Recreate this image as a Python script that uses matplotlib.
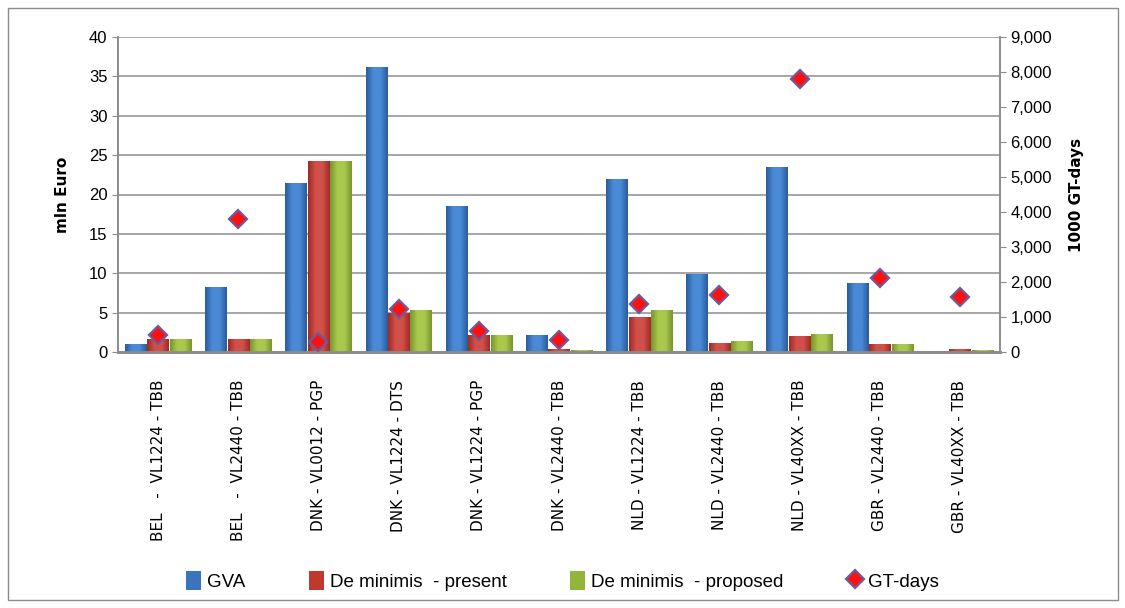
import numpy as np
import matplotlib
matplotlib.use("Agg")
import matplotlib.pyplot as plt
from matplotlib.patches import Rectangle
from matplotlib.ticker import FuncFormatter
from matplotlib.colors import LinearSegmentedColormap

categories = ["BEL   -  VL1224 - TBB", "BEL   -  VL2440 - TBB", "DNK - VL0012 - PGP",
              "DNK - VL1224 - DTS", "DNK - VL1224 - PGP", "DNK - VL2440 - TBB",
              "NLD - VL1224 - TBB", "NLD - VL2440 - TBB", "NLD - VL40XX - TBB",
              "GBR - VL2440 - TBB", "GBR - VL40XX - TBB"]
gva = [1.0, 8.3, 21.4, 36.2, 18.6, 2.2, 22.0, 9.9, 23.5, 8.8, 0.1]
dm_present = [1.6, 1.6, 24.3, 5.0, 2.2, 0.35, 4.4, 1.2, 2.0, 1.0, 0.35]
dm_proposed = [1.6, 1.6, 24.3, 5.3, 2.2, 0.3, 5.3, 1.35, 2.3, 1.0, 0.3]
gt_days = [500, 3800, 275, 1225, 600, 330, 1360, 1640, 7800, 2120, 1570]

series_names = ["GVA", "De minimis  - present", "De minimis  - proposed", "GT-days"]
colors = [("#2A5C9A", "#4A8AD6"), ("#9E2A24", "#D2504A"), ("#76952C", "#A9C94E")]
solid = ["#3A74BC", "#C0392F", "#93B53C"]

fig = plt.figure(figsize=(11.25, 6.08), dpi=100)
ax = fig.add_axes([118/1125, 1-352/608, 882/1125, 315/608])
ax2 = ax.twinx()

x = np.arange(len(categories))
w = 0.265
offs = [-0.28, 0.0, 0.28]
all_bars = []
for vals, off, col, (dk, lt), name in zip([gva, dm_present, dm_proposed], offs, solid, colors, series_names):
    bars = ax.bar(x + off, vals, width=w, color=col, label=name, zorder=3, edgecolor="none")
    cmap = LinearSegmentedColormap.from_list("g", [dk, lt, lt, dk])
    grad = np.linspace(0, 1, 64).reshape(1, -1)
    for b in bars:
        bx, by = b.get_x(), b.get_y()
        bw, bh = b.get_width(), b.get_height()
        if bh <= 0:
            continue
        im = ax.imshow(grad, cmap=cmap, aspect="auto", extent=[bx, bx + bw, by, by + bh],
                       zorder=3.1, interpolation="bicubic")
        im.set_clip_path(b)
    all_bars.append(bars)

ax.set_xlim(-0.5, len(categories) - 0.5)
ax.set_ylim(0, 40)
ax.set_yticks(np.arange(0, 41, 5))
ax2.set_ylim(0, 9000)
ax2.set_yticks(np.arange(0, 9001, 1000))
ax2.yaxis.set_major_formatter(FuncFormatter(lambda v, p: f"{int(v):,}"))

ax2.plot(x, gt_days, linestyle="none", marker="D", markersize=9, markerfacecolor="#FF1010",
         markeredgecolor="#6E5A96", markeredgewidth=1.6, label=series_names[3], zorder=5)

ax.yaxis.grid(True, color="#A6A6A6", linewidth=1.4, zorder=0)
ax.set_axisbelow(True)
for a in (ax, ax2):
    for s in a.spines.values():
        s.set_color("#8C8C8C")
        s.set_linewidth(1.2)
ax2.spines["top"].set_visible(False)
ax.spines["top"].set_visible(False)
ax.spines["bottom"].set_linewidth(2.0)
ax2.spines["bottom"].set_linewidth(2.0)

ax.set_xticks(x)
ax.set_xticklabels(categories, rotation=90, fontsize=11, family="DejaVu Sans")
ax.tick_params(axis="x", length=0, pad=20)
ax.tick_params(axis="y", labelsize=12, color="#8C8C8C", length=4)
ax2.tick_params(axis="y", labelsize=12, color="#8C8C8C", length=4)
for lab in ax.get_yticklabels() + ax2.get_yticklabels():
    lab.set_family("Liberation Sans")

ax.set_ylabel("mln Euro", fontsize=11, fontweight="bold", labelpad=14)
ax2.set_ylabel("1000 GT-days", fontsize=11, fontweight="bold", labelpad=12)

handles = [all_bars[0], all_bars[1], all_bars[2], ax2.lines[0]]
leg = fig.legend(handles, series_names, loc="center", bbox_to_anchor=(0.5, 1-581/608), ncol=4,
                 frameon=False, handlelength=0.8, handleheight=1.2, columnspacing=3.4,
                 handletextpad=0.3, prop={"family": "Liberation Sans", "size": 13.5})

fig.patches.append(Rectangle((8/1125, 1-600/608), 1110/1125, 592/608, transform=fig.transFigure,
                             fill=False, edgecolor="#8C8C8C", linewidth=1.0))

fig.savefig("out.png", dpi=100, facecolor="white")
